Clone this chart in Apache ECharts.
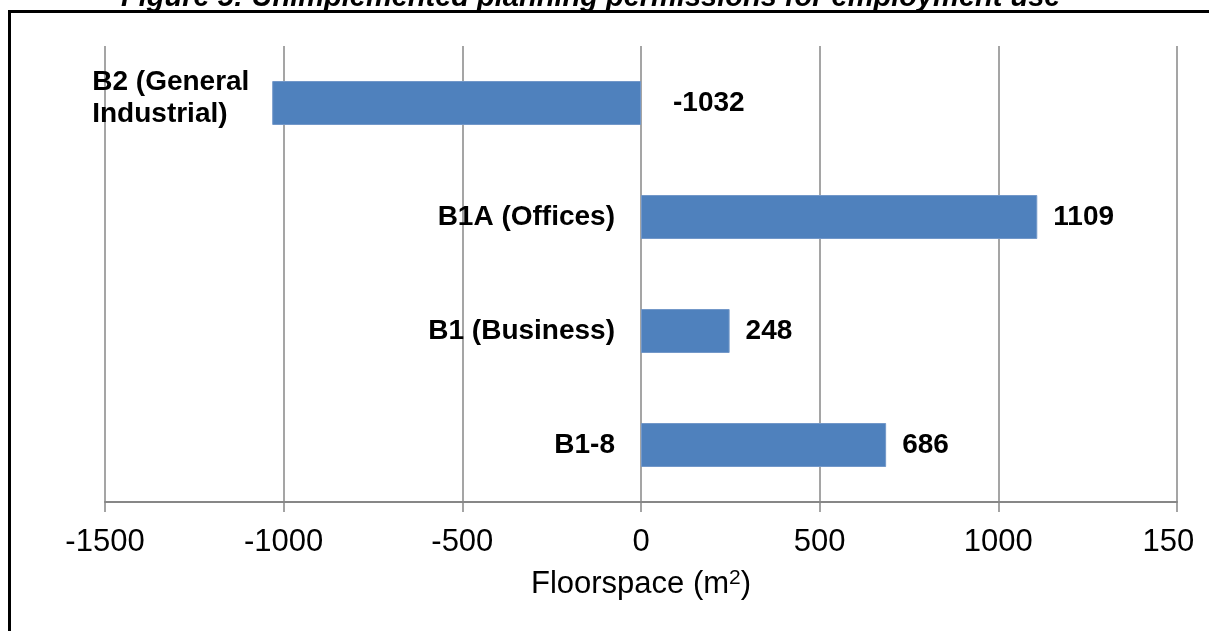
<!DOCTYPE html>
<html>
<head>
<meta charset="utf-8">
<script src="https://cdn.jsdelivr.net/npm/echarts@6/dist/echarts.min.js"></script>
<style>
  html, body { margin: 0; padding: 0; background: #fff; overflow: hidden; }
  #frame { position: absolute; left: 8px; top: 10px; width: 1400px; height: 800px;
           border-top: 3px solid #000; border-left: 3px solid #000; }
  #chart { position: absolute; left: 0; top: 0; width: 1195px; height: 631px; }
</style>
</head>
<body>
<div id="frame"></div>
<div id="chart"></div>
<script>
// 数据
const categories = ['B2 (General\nIndustrial)', 'B1A (Offices)', 'B1 (Business)', 'B1-8']
const floorspace = [-1032, 1109, 248, 686]
const xTicks = { min: -1500, max: 1500, interval: 500 }

const font = 'Arial, "Liberation Sans", sans-serif'
const gridColor = '#878787'

const chart = echarts.init(document.getElementById('chart'))

// 类别名称放在柱子左侧，数值放在右侧
const nameData = floorspace.map((v, i) => {
  const multi = categories[i].includes('\n')
  return {
    value: v,
    label: {
      distance: v < 0 ? 12 : 26,
      offset: multi ? [0, -5] : [0, 0],
      formatter: categories[i].split('\n').map(s => (multi ? '{w|' : '{n|') + s + '}').join('\n')
    }
  }
})

const valueData = floorspace.map(v => ({
  value: v,
  label: { distance: v < 0 ? 32 : 16 }
}))

const labelText = { fontFamily: font, fontSize: 28, fontWeight: 'bold', color: '#000' }

chart.setOption({
  animation: false,
  title: {
    text: 'Figure 5: Unimplemented planning permissions for employment use',
    left: 116,
    top: -22,
    textStyle: { fontFamily: font, fontSize: 29, fontWeight: 'bold', fontStyle: 'italic', color: '#000' }
  },
  grid: { left: 105, right: 18, top: 46, height: 456, containLabel: false, outerBoundsMode: 'none' },
  xAxis: {
    type: 'value',
    min: xTicks.min,
    max: xTicks.max,
    interval: xTicks.interval,
    axisLine: { show: true, onZero: false, lineStyle: { color: gridColor, width: 2 } },
    axisTick: { show: true, length: 10, lineStyle: { color: gridColor, width: 1.5 } },
    splitLine: { show: true, lineStyle: { color: gridColor, width: 1.5 } },
    axisLabel: { fontFamily: font, fontSize: 31, color: '#000', margin: 25, formatter: v => String(v), hideOverlap: false },
    name: 'Floorspace (m{sup|2})',
    nameLocation: 'middle',
    nameGap: 66,
    nameTextStyle: {
      fontFamily: font, fontSize: 31, color: '#000',
      rich: { sup: { fontFamily: font, fontSize: 21, color: '#000', padding: [0, 0, 12, 0] } }
    }
  },
  yAxis: {
    type: 'category',
    inverse: true,
    data: categories,
    axisLine: { show: false },
    axisTick: { show: false },
    axisLabel: { show: false },
    splitLine: { show: false }
  },
  series: [
    {
      name: 'Floorspace',
      type: 'bar',
      barWidth: 44,
      data: valueData,
      itemStyle: { color: '#4f81bd', borderColor: '#7398c9', borderWidth: 1 },
      label: Object.assign({ show: true, position: 'right' }, labelText)
    },
    {
      name: 'names',
      type: 'bar',
      barWidth: 44,
      barGap: '-100%',
      silent: true,
      data: nameData,
      itemStyle: { color: 'rgba(0,0,0,0)' },
      label: Object.assign({
        show: true,
        position: 'left',
        rich: {
          n: labelText,
          w: Object.assign({ width: 168, align: 'left', lineHeight: 32 }, labelText)
        }
      }, labelText)
    }
  ]
})
</script>
</body>
</html>
